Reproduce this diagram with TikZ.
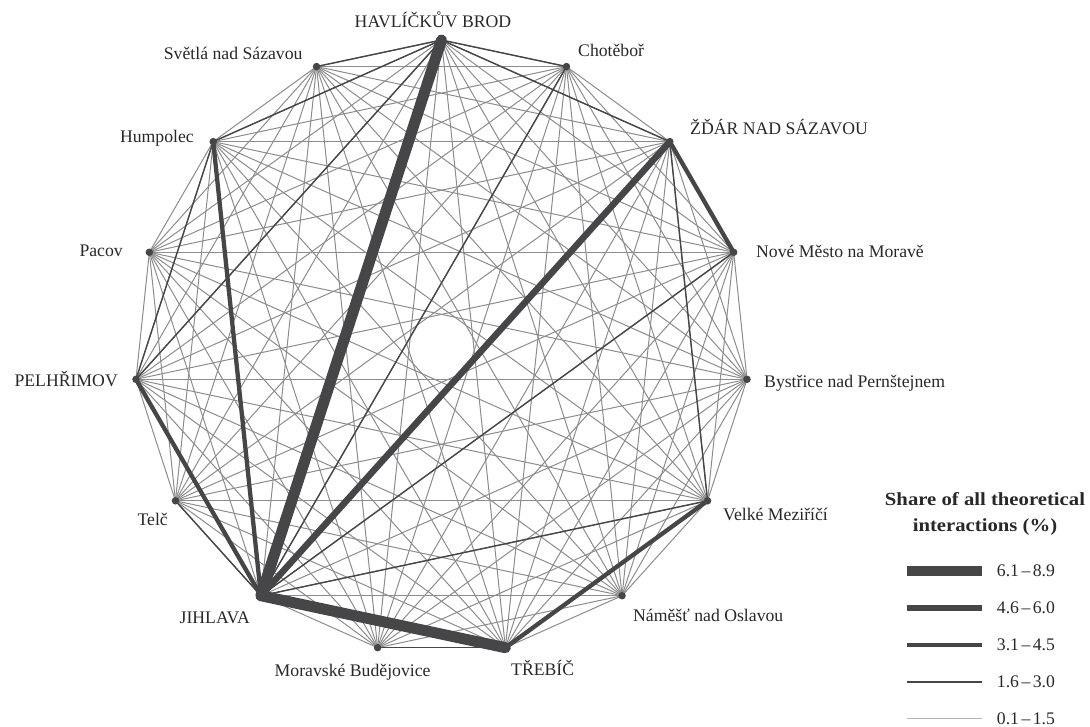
\documentclass[tikz,border=0pt]{standalone}
\usepackage{fontspec}
\setmainfont{Liberation Serif}
\newfontfamily\legfont[FakeStretch=1.12]{Liberation Serif}
\usetikzlibrary{backgrounds}
\definecolor{dk}{RGB}{70,70,72}
\definecolor{lt}{RGB}{140,140,140}
\definecolor{ltleg}{RGB}{180,180,180}
\definecolor{txt}{RGB}{40,40,40}
\tikzset{
  dot/.style={circle,fill=dk,inner sep=0pt,minimum size=7.5pt},
  lbl/.style={font=\fontsize{17.7}{20}\selectfont,text=txt,inner sep=0pt},
  ttl/.style={font=\legfont\bfseries\fontsize{18.5}{22}\selectfont,text=txt,inner sep=0pt},
  elight/.style={draw=lt,line width=1pt},
  edark/.style={draw=dk,line width=1.4pt},
  emid/.style={draw=dk,line width=4.3pt,line cap=round},
  ebig/.style={draw=dk,line width=6.5pt,line cap=round},
  ehuge/.style={draw=dk,line width=11pt,line cap=round},
}
\newcommand{\rng}[2]{#1\hspace{2.5pt}–\hspace{2.5pt}#2}
\begin{document}
\begin{tikzpicture}[x=1pt,y=-1pt]
\useasboundingbox (0,0) rectangle (1090,727);
% towns
\foreach \k in {0,...,14}{
  \node[dot] (n\k) at ({441.5+307.2*cos(90-24*\k)},{347.2-307.2*sin(90-24*\k)}) {};
}
\begin{scope}[on background layer]
\foreach \i in {0,...,13}{
  \pgfmathtruncatemacro{\s}{\i+1}
  \foreach \j in {\s,...,14}{\draw[elight] (n\i.center) -- (n\j.center);}
}
\foreach \a/\b in {0/14,0/1,0/2,0/13,0/11,13/11,1/9,2/5,3/9,5/9,10/9,8/7}{
  \draw[edark] (n\a.center) -- (n\b.center);}
\foreach \a/\b in {13/9,11/9,2/3,7/5}{
  \draw[emid] (n\a.center) -- (n\b.center);}
\draw[ebig] (n2.center) -- (n9.center);
\draw[ehuge] (n0.center) -- (n9.center);
\draw[ehuge] (n9.center) -- (n7.center);
\end{scope}
% labels
\node[lbl,anchor=base] (l0) at (433,27.3) {HAVLÍČKŮV BROD};
\node[lbl,anchor=base west] (l1) at (578,56.7) {Chotěboř};
\node[lbl,anchor=base west] (l2) at (690,135) {ŽĎÁR NAD SÁZAVOU};
\node[lbl,anchor=base west] (l3) at (756,258) {Nové Město na Moravě};
\node[lbl,anchor=base west] (l4) at (764,388) {Bystřice nad Pernštejnem};
\node[lbl,anchor=base west] (l5) at (723,520) {Velké Meziříčí};
\node[lbl,anchor=base west] (l6) at (633,621.7) {Náměšť nad Oslavou};
\node[lbl,anchor=base west] (l7) at (511,675) {TŘEBÍČ};
\node[lbl,anchor=base east] (l8) at (430.7,676.5) {Moravské Budějovice};
\node[lbl,anchor=base east] (l9) at (250,623) {JIHLAVA};
\node[lbl,anchor=base east] (l10) at (168,525) {Telč};
\node[lbl,anchor=base east] (l11) at (118,386) {PELHŘIMOV};
\node[lbl,anchor=base east] (l12) at (123,257) {Pacov};
\node[lbl,anchor=base east] (l13) at (194,143) {Humpolec};
\node[lbl,anchor=base east] (l14) at (302.7,60) {Světlá nad Sázavou};
% legend
\node[ttl,anchor=base] (lt1) at (985,505) {Share of all theoretical};
\node[ttl,anchor=base] (lt2) at (985,531) {interactions (\%)};
\coordinate (a1) at (906.7,570.7); \coordinate (b1) at (982.3,570.7);
\coordinate (a2) at (906.7,607.7); \coordinate (b2) at (982.3,607.7);
\coordinate (a3) at (906.7,644.7); \coordinate (b3) at (982.3,644.7);
\coordinate (a4) at (906.7,682.0); \coordinate (b4) at (982.3,682.0);
\coordinate (a5) at (906.7,718.3); \coordinate (b5) at (982.3,718.3);
\draw[ehuge,line width=10pt,line cap=butt] (a1) -- (b1);
\draw[ebig,line width=6pt,line cap=butt] (a2) -- (b2);
\draw[emid,line width=4pt,line cap=butt] (a3) -- (b3);
\draw[edark] (a4) -- (b4);
\draw[elight,draw=ltleg,line width=1.4pt] (a5) -- (b5);
\node[lbl,anchor=west] (t1) at (996.7,570.7) {\rng{6.1}{8.9}};
\node[lbl,anchor=west] (t2) at (996.7,607.7) {\rng{4.6}{6.0}};
\node[lbl,anchor=west] (t3) at (996.7,644.7) {\rng{3.1}{4.5}};
\node[lbl,anchor=west] (t4) at (996.7,682.0) {\rng{1.6}{3.0}};
\node[lbl,anchor=west] (t5) at (996.7,718.3) {\rng{0.1}{1.5}};
\end{tikzpicture}
\end{document}
